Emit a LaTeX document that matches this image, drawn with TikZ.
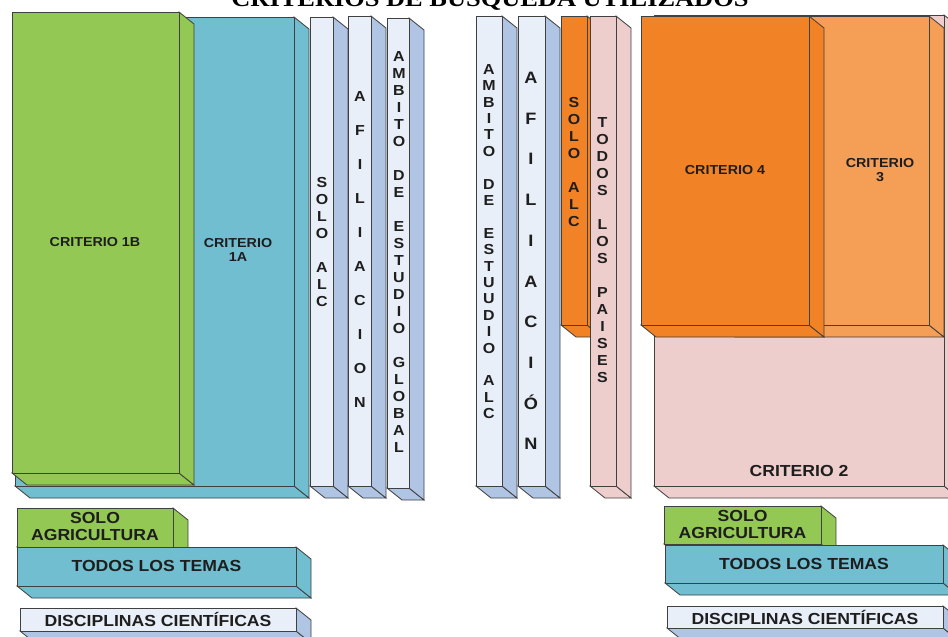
\documentclass[tikz,border=0pt]{standalone}
\usepackage{fontspec}
\newfontfamily\lab{Liberation Sans}[FakeStretch=1.1]
\newfontfamily\ttl{Liberation Serif}[FakeStretch=1.1]
\definecolor{cgreen}{RGB}{146,200,83}
\definecolor{cteal}{RGB}{113,190,208}
\definecolor{clb}{RGB}{233,239,248}
\definecolor{clbs}{RGB}{176,197,227}
\definecolor{cpink}{RGB}{238,206,204}
\definecolor{cdor}{RGB}{241,131,38}
\definecolor{clor}{RGB}{245,158,86}
\definecolor{ctxt}{RGB}{30,30,30}
\newcommand\boxthreed[6]{%
  \filldraw[boxline,fill=#6] (#1,#4) -- (#3,#4) -- ({#3+15},{#4+12}) -- ({#1+15},{#4+12}) -- cycle;
  \filldraw[boxline,fill=#6] (#3,#2) -- ({#3+15},{#2+12}) -- ({#3+15},{#4+12}) -- (#3,#4) -- cycle;
  \filldraw[boxline,fill=#5] (#1,#2) rectangle (#3,#4);
}
\begin{document}
\begin{tikzpicture}[x=1pt,y=-1pt,
  boxline/.style={draw=black!75,line width=0.8pt,line join=miter},
  lbl/.style={inner sep=0pt,align=center,text=ctxt,font=\lab\bfseries\fontsize{13}{13.5}\selectfont},
  leg/.style={inner sep=0pt,align=center,text=ctxt,font=\lab\bfseries\fontsize{16}{17}\selectfont},
  vt/.style={inner sep=0pt,align=center,text=ctxt,font=\lab\bfseries\fontsize{14.5}{17}\selectfont},
  vtw/.style={inner sep=0pt,align=center,text=ctxt,font=\lab\bfseries\fontsize{14.5}{34}\selectfont},
  vtb/.style={inner sep=0pt,align=center,text=ctxt,font=\lab\bfseries\fontsize{16.5}{40.7}\selectfont}]
\useasboundingbox (0,0) rectangle (948,637);
\clip (0,0) rectangle (948,637);
\fill[white] (0,0) rectangle (948,637);
% title
\node[anchor=base,inner sep=0pt,text=black,font=\ttl\bfseries\fontsize{24}{24}\selectfont] (title) at (490,6.5) {CRITERIOS DE BÚSQUEDA UTILIZADOS};
% left group
\boxthreed{15}{17}{294}{486}{cteal}{cteal}
\boxthreed{12}{12}{179}{473}{cgreen}{cgreen}
\boxthreed{310}{17}{333}{486}{clb}{clbs}
\boxthreed{348}{16}{371}{486}{clb}{clbs}
\boxthreed{387}{18}{409}{488}{clb}{clbs}
% right columns
\boxthreed{476}{16}{502}{486}{clb}{clbs}
\boxthreed{518}{16}{545}{486}{clb}{clbs}
\boxthreed{561}{16}{587}{325}{cdor}{cdor}
\boxthreed{590}{16}{616}{486}{cpink}{cpink}
% right big group
\boxthreed{654}{15}{944}{486}{cpink}{cpink}
\boxthreed{720}{16}{929}{325}{clor}{clor}
\boxthreed{641}{16}{809}{325}{cdor}{cdor}
% legends left
\boxthreed{17}{508}{173}{547}{cgreen}{cgreen}
\boxthreed{17}{547}{296}{586}{cteal}{cteal}
\boxthreed{20}{608}{296}{631}{clb}{clbs}
% legends right
\boxthreed{664}{506}{821}{544}{cgreen}{cgreen}
\boxthreed{665}{545}{943}{583}{cteal}{cteal}
\boxthreed{667}{606}{943}{628}{clb}{clbs}
% labels
\node[lbl] (c1b) at (95,242) {CRITERIO 1B};
\node[lbl] (c1a) at (238,250) {CRITERIO\\1A};
\node[lbl] (c4) at (725,170) {CRITERIO 4};
\node[lbl] (c3) at (880,170) {CRITERIO\\3};
\node[leg] (c2) at (799,471) {CRITERIO 2};
% vertical labels
\node[vt] (soloalcL) at (322,242.5) {S\\O\\L\\O\\[17pt]A\\L\\C};
\node[vtw] (afilL) at (360,250) {A\\F\\I\\L\\I\\A\\C\\I\\O\\N};
\node[vt] (ambG) at (399,252) {A\\M\\B\\I\\T\\O\\[17pt]D\\E\\[17pt]E\\S\\T\\U\\D\\I\\O\\[17pt]G\\L\\O\\B\\A\\L};
\node[vt,font=\lab\bfseries\fontsize{14.5}{16.4}\selectfont] (ambA) at (489,241.5) {A\\M\\B\\I\\T\\O\\[16.4pt]D\\E\\[16.4pt]E\\S\\T\\U\\U\\D\\I\\O\\[16.4pt]A\\L\\C};
\node[vtb] (afilR) at (531,261) {A\\F\\I\\L\\I\\A\\C\\I\\Ó\\N};
\node[vt] (soloalcR) at (574,162.5) {S\\O\\L\\O\\[17pt]A\\L\\C};
\node[vt] (todosp) at (602.5,250) {T\\O\\D\\O\\S\\[17pt]L\\O\\S\\[17pt]P\\A\\I\\S\\E\\S};
% legend labels
\node[leg] (saL) at (95,526.5) {SOLO\\AGRICULTURA};
\node[leg] (ttL) at (156.5,566) {TODOS LOS TEMAS};
\node[leg] (dcL) at (158,619.5) {DISCIPLINAS CIENTÍFICAS};
\node[leg] (saR) at (742.5,524.5) {SOLO\\AGRICULTURA};
\node[leg] (ttR) at (804,564) {TODOS LOS TEMAS};
\node[leg] (dcR) at (805,617) {DISCIPLINAS CIENTÍFICAS};
\end{tikzpicture}
\end{document}
